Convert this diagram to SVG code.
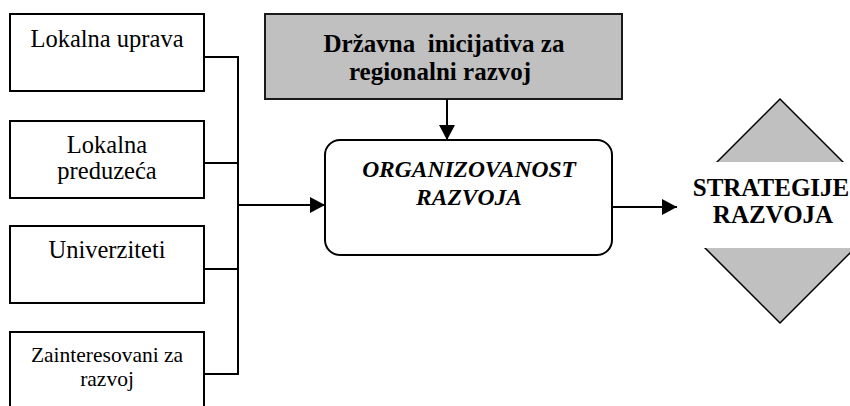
<svg xmlns="http://www.w3.org/2000/svg" width="850" height="406" viewBox="0 0 850 406">
  <style>
    .box { fill: #ffffff; stroke: #000000; stroke-width: 2; }
    .gray { fill: #c0c0c0; stroke: #1a1a1a; stroke-width: 2; }
    .line { fill: none; stroke: #000000; stroke-width: 2; }
    .t { font-family: "Liberation Serif", "Times New Roman", serif; fill: #000000; text-anchor: middle; }
    .n { font-size: 24.5px; }
    .s { font-size: 21.5px; }
    .b { font-size: 25px; font-weight: bold; white-space: pre; }
    .bi { font-size: 23.5px; font-weight: bold; font-style: italic; }
  </style>
  <defs>
    <marker id="arrow" markerWidth="16" markerHeight="16" refX="15" refY="8" orient="auto" markerUnits="userSpaceOnUse">
      <path d="M0,0 L15,8 L0,16 Z" fill="#000000"/>
    </marker>
  </defs>

  <!-- Participants on the left -->
  <g id="lokalna-uprava">
    <rect class="box" x="10" y="14" width="194" height="77"/>
    <text class="t n" x="107" y="47">Lokalna uprava</text>
  </g>
  <g id="lokalna-preduzeca">
    <rect class="box" x="10" y="121" width="194" height="77"/>
    <text class="t n" x="107" y="153">Lokalna</text>
    <text class="t n" x="107" y="179">preduzeća</text>
  </g>
  <g id="univerziteti">
    <rect class="box" x="10" y="226" width="194" height="77"/>
    <text class="t n" x="107" y="258">Univerziteti</text>
  </g>
  <g id="zainteresovani">
    <rect class="box" x="10" y="332" width="194" height="90"/>
    <text class="t s" x="107" y="362">Zainteresovani za</text>
    <text class="t s" x="107" y="386">razvoj</text>
  </g>

  <!-- State initiative -->
  <g id="drzavna-inicijativa">
    <rect class="gray" x="265" y="14" width="357" height="85"/>
    <text class="t b" x="444" y="52">Državna  inicijativa za</text>
    <text class="t b" x="440" y="80">regionalni razvoj</text>
  </g>

  <!-- Central node -->
  <g id="organizovanost">
    <rect class="box" x="325" y="140" width="287" height="115" rx="15" ry="15"/>
    <text class="t bi" x="469" y="177">ORGANIZOVANOST</text>
    <text class="t bi" x="469" y="205">RAZVOJA</text>
  </g>

  <!-- Strategies diamond with a white band across the middle -->
  <g id="strategije">
    <polygon points="780,99 892,211 780,323 668,211" fill="#c0c0c0" stroke="#000000" stroke-width="1.5"/>
    <rect x="640" y="162" width="220" height="86" fill="#ffffff"/>
    <text class="t b" x="771" y="196">STRATEGIJE</text>
    <text class="t b" x="773" y="223">RAZVOJA</text>
  </g>

  <!-- Connectors -->
  <g id="connectors">
    <path class="line" d="M204,57 H238 M204,163 H238 M204,269 H238 M204,374 H238 M238,56 V375"/>
    <line class="line" x1="238" y1="205" x2="325" y2="205" marker-end="url(#arrow)"/>
    <line class="line" x1="447" y1="99" x2="447" y2="140" marker-end="url(#arrow)"/>
    <line class="line" x1="612" y1="207" x2="677" y2="207" marker-end="url(#arrow)"/>
  </g>
</svg>
